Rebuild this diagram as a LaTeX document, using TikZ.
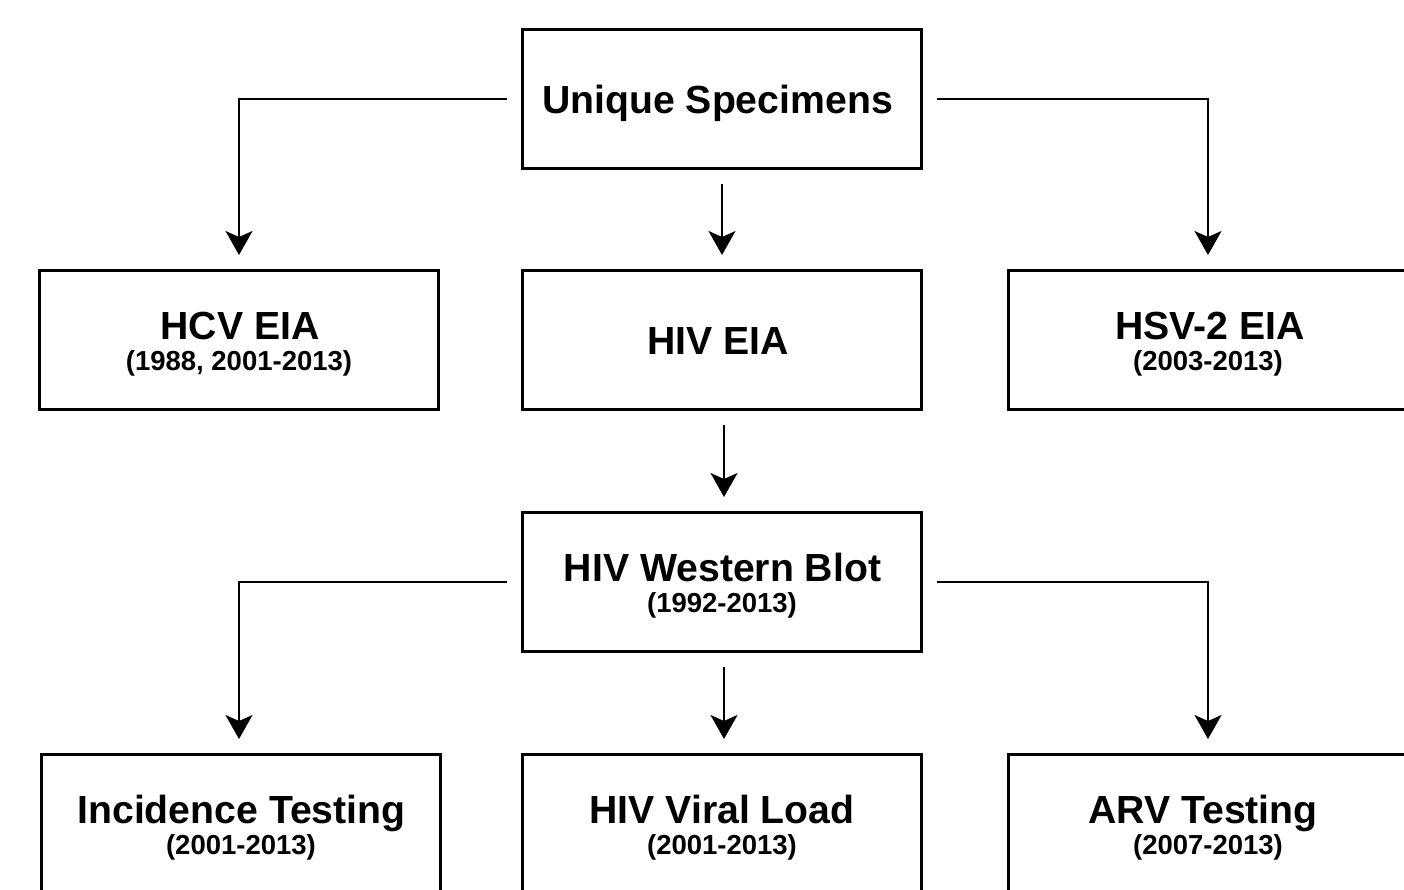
\documentclass[tikz,border=0pt]{standalone}
\usepackage{fontspec}
\setmainfont{Liberation Sans}
\usetikzlibrary{arrows.meta}
\tikzset{
  box/.style={draw, line width=3pt, minimum width=399pt, minimum height=139pt, outer sep=15.5pt, inner sep=0pt},
  ttl/.style={anchor=base, inner sep=0pt, font=\bfseries\fontsize{39.2}{41}\selectfont},
  sub/.style={anchor=base, inner sep=0pt, font=\bfseries\fontsize{27.5}{30}\selectfont},
  arr/.style={line width=2pt, -{Stealth[length=24pt, width=27pt, inset=6pt]}}
}
\begin{document}
\begin{tikzpicture}[x=1pt,y=-1pt]
\useasboundingbox (0,0) rectangle (1404,889);
\clip (0,0) rectangle (1404,889);
% boxes
\node[box] (us) at (722,99) {};
\node[box] (hcv) at (239,340) {};
\node[box] (hiv) at (722,340) {};
\node[box] (hsv) at (1208,340) {};
\node[box] (wb) at (722,582) {};
\node[box] (inc) at (241,824) {};
\node[box] (vl) at (722,824) {};
\node[box] (arv) at (1208,824) {};
% texts
\node[ttl] (tus) at (717.5,113) {Unique Specimens};
\node[ttl] (thcv) at (240,339) {HCV EIA};
\node[sub] (shcv) at (239,370) {(1988, 2001-2013)};
\node[ttl] (thiv) at (718,354) {HIV EIA};
\node[ttl] (thsv) at (1210,339) {HSV-2 EIA};
\node[sub] (shsv) at (1208,370) {(2003-2013)};
\node[ttl] (twb) at (722.5,581) {HIV Western Blot};
\node[sub] (swb) at (722,612) {(1992-2013)};
\node[ttl] (tinc) at (241.5,823) {Incidence Testing};
\node[sub] (sinc) at (241,854) {(2001-2013)};
\node[ttl] (tvl) at (722,823) {HIV Viral Load};
\node[sub] (svl) at (722,854) {(2001-2013)};
\node[ttl] (tarv) at (1203,823) {ARV Testing};
\node[sub] (sarv) at (1208,854) {(2007-2013)};
% connectors
\draw[arr] (us.west) -| (hcv.north);
\draw[arr] (us.east) -| (hsv.north);
\draw[arr] (us.south) -- (hiv.north);
\draw[arr] ([xshift=2pt]hiv.south) -- ([xshift=2pt]wb.north);
\draw[arr] (wb.west) -| (inc.north -| hcv.north);
\draw[arr] (wb.east) -| (arv.north);
\draw[arr] ([xshift=2pt]wb.south) -- ([xshift=2pt]vl.north);
\end{tikzpicture}
\end{document}
